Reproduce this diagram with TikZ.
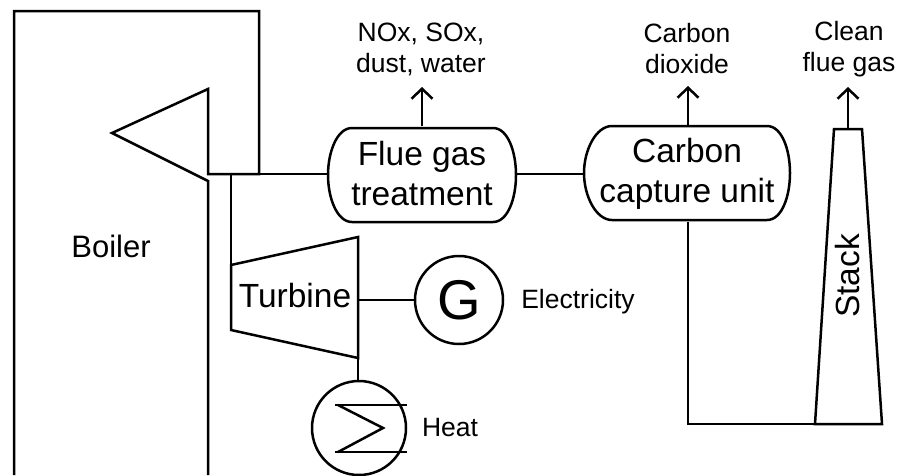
\documentclass[tikz,border=0pt]{standalone}
\usepackage{fontspec}
\setmainfont{Liberation Sans}
\usetikzlibrary{arrows.meta}
\tikzset{
  every path/.style={line width=2.5pt,line join=miter},
  lbl/.style={inner sep=0pt,align=center,font=\fontsize{31}{38}\selectfont},
  wide/.style={inner sep=0pt,align=center,font=\fontsize{33.5}{40}\selectfont},
  small/.style={inner sep=0pt,align=center,font=\fontsize{26.5}{31}\selectfont},
  disc/.style={draw,circle,inner sep=0pt,minimum size=#1},
  vessel/.style={inner sep=0pt,minimum width=#1,minimum height=94pt,align=center,font=\fontsize{33.5}{40}\selectfont},
  outlet/.style={-{Straight Barb[length=10pt,width=21pt,line width=2.5pt]}}
}
\begin{document}
\begin{tikzpicture}[x=1pt,y=-1pt]
\useasboundingbox (0,0) rectangle (899,475);
% boiler
\draw (14,475) -- (14,11) -- (259,11) -- (259,174) -- (208,174) -- (208,89) -- (112,133) -- (208,181) -- (208,475);
\node[lbl] (boiler) at (111,246) {Boiler};
\coordinate (steam) at (231,174);
\coordinate (flueout) at (259,174);
% turbine
\draw (231,265) -- (358,237) -- (358,358) -- (231,330) -- cycle;
\coordinate (turbtop) at (231,265);
\coordinate (turbside) at (358,300);
\coordinate (turbbot) at (358,358);
\node[wide] (turbine) at (295,296) {Turbine};
% generator
\node[disc=88pt] (gen) at (459,300) {};
\node[inner sep=0pt,font=\fontsize{56}{60}\selectfont] (g) at (459,300) {G};
\node[small] (elec) at (578,302) {Electricity};
% heat
\node[disc=94pt] (heat) at (359,428) {};
\draw (335,405) -- (407,405);
\draw (335,452) -- (407,452);
\draw (338,405) -- (383,428) -- (338,452);
\node[small] (heatl) at (450,428) {Heat};
% flue gas treatment
\node[vessel=188pt] (flue) at (422,174) {Flue gas\\treatment};
\draw (352,128) -- (493,128) .. controls (508,128) and (516,152) .. (516,175)
      .. controls (516,198) and (508,222) .. (493,222) -- (352,222)
      .. controls (337,222) and (328,198) .. (328,175)
      .. controls (328,152) and (337,128) .. (352,128) -- cycle;
% carbon capture
\node[vessel=206pt] (cc) at (687,174) {Carbon\\capture unit};
\draw (612,126) -- (767,126) .. controls (782,126) and (790,150) .. (790,173)
      .. controls (790,196) and (782,220) .. (767,220) -- (612,220)
      .. controls (596,220) and (584,196) .. (584,173)
      .. controls (584,150) and (596,126) .. (612,126) -- cycle;
% stack
\draw (815,424) -- (834,129) -- (862,129) -- (882,424) -- cycle;
\node[wide,rotate=90] (stack) at (848,276) {Stack};
\coordinate (stackbase) at (815,424);
\coordinate (stacktop) at (848,129);
\coordinate (corner) at (688,424);
% connectors
\draw (steam) -- (turbtop);
\draw (flueout) -- (flueout -| flue.west);
\draw (flue.east) -- (cc.west);
\draw (turbside) -- (gen.west);
\draw (turbbot) -- (turbbot |- heat.north);
\draw (cc.south -| corner) -- (corner) -- (stackbase);
% outlets
\node[small] (o1) at (421,49) {NOx, SOx,\\dust, water};
\node[small] (o2) at (687,49) {Carbon\\dioxide};
\node[small] (o3) at (849,49) {Clean\\flue gas};
\coordinate (a1) at (422,87);
\coordinate (a2) at (688,86);
\coordinate (a3) at (848,87);
\draw[outlet] (flue.north) -- (a1);
\draw[outlet] (cc.north -| a2) -- (a2);
\draw[outlet] (stacktop) -- (a3);
\end{tikzpicture}
\end{document}
